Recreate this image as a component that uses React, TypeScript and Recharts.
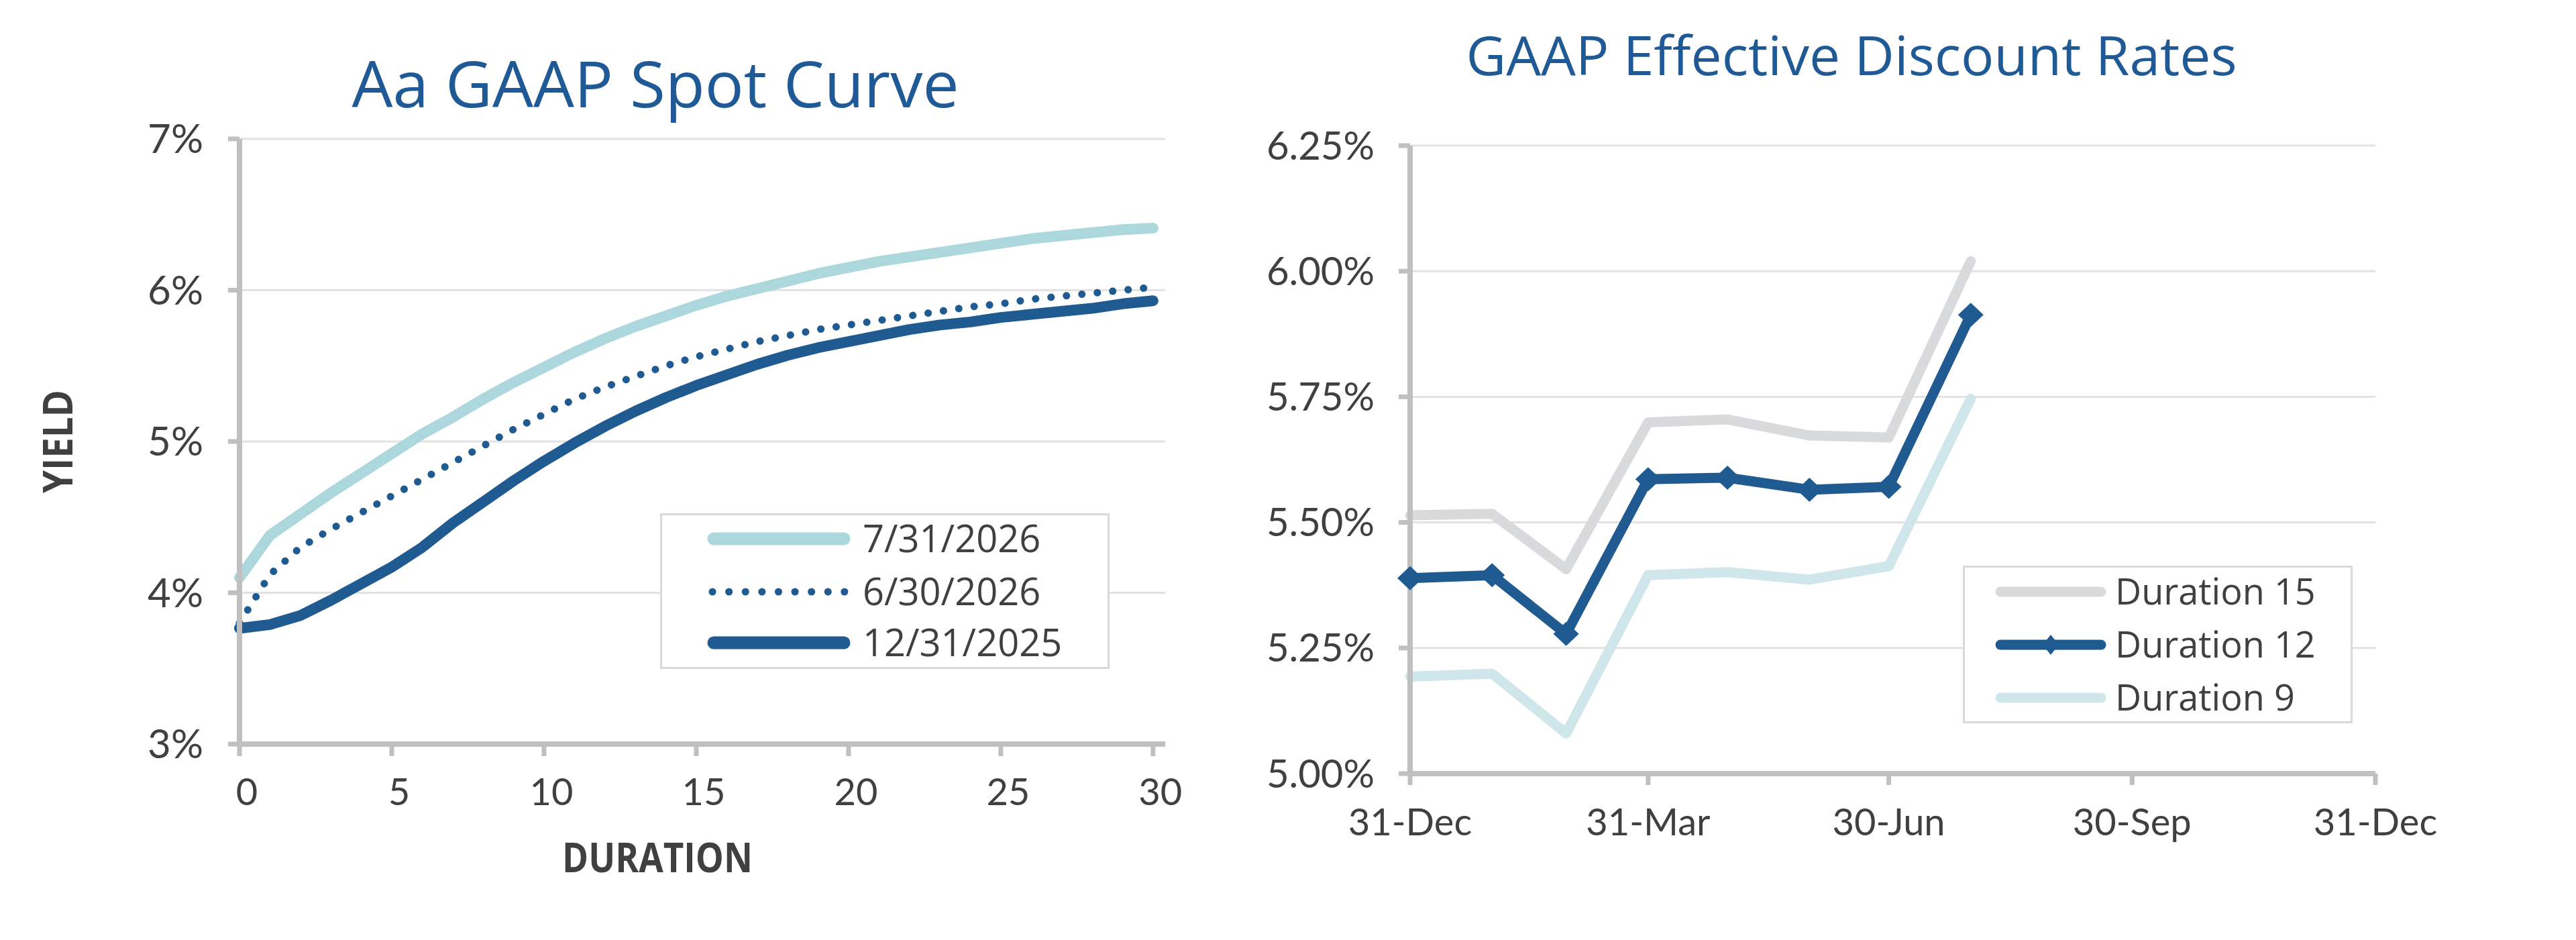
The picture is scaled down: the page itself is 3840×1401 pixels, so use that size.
import React from "react";
import { CartesianGrid, Legend, Line, LineChart, XAxis, YAxis } from "recharts";

// ---- Aa GAAP spot curve (yield % by duration) ----
const durations = [
  0, 1, 2, 3, 4, 5, 6, 7, 8, 9, 10, 11, 12, 13, 14, 15, 16, 17, 18, 19, 20, 21, 22, 23, 24, 25, 26, 27, 28, 29, 30,
];
const spotJul2026 = [
  4.1, 4.38, 4.52, 4.66, 4.79, 4.92, 5.05, 5.16, 5.28, 5.39, 5.49, 5.59, 5.68, 5.76, 5.83, 5.9, 5.96, 6.01, 6.06,
  6.11, 6.15, 6.19, 6.22, 6.25, 6.28, 6.31, 6.34, 6.36, 6.38, 6.4, 6.41,
];
const spotJun2026 = [
  3.8, 4.12, 4.3, 4.42, 4.53, 4.64, 4.75, 4.86, 4.97, 5.08, 5.18, 5.28, 5.36, 5.43, 5.5, 5.56, 5.61, 5.66, 5.7, 5.74,
  5.77, 5.8, 5.83, 5.86, 5.89, 5.91, 5.94, 5.96, 5.98, 6.0, 6.02,
];
const spotDec2025 = [
  3.765, 3.79, 3.85, 3.95, 4.06, 4.17, 4.3, 4.46, 4.6, 4.74, 4.87, 4.99, 5.1, 5.2, 5.29, 5.37, 5.44, 5.51, 5.57,
  5.62, 5.66, 5.7, 5.74, 5.77, 5.79, 5.82, 5.84, 5.86, 5.88, 5.91, 5.93,
];
const durationTicks = [0, 5, 10, 15, 20, 25, 30];
const yieldTicks = [3, 4, 5, 6, 7];

// ---- GAAP effective discount rates (days after 31-Dec) ----
const rateDays = [0, 31, 59, 90, 120, 151, 181, 212];
const rateDates = ["31-Dec", "31-Jan", "28-Feb", "31-Mar", "30-Apr", "31-May", "30-Jun", "31-Jul"];
const duration15 = [5.514, 5.517, 5.407, 5.699, 5.705, 5.673, 5.669, 6.02];
const duration12 = [5.389, 5.395, 5.278, 5.586, 5.589, 5.565, 5.571, 5.913];
const duration9 = [5.193, 5.199, 5.08, 5.395, 5.401, 5.386, 5.413, 5.746];
const dayTicks = [0, 90, 181, 273, 365];
const dayTickLabels = ["31-Dec", "31-Mar", "30-Jun", "30-Sep", "31-Dec"];
const rateTicks = [5, 5.25, 5.5, 5.75, 6, 6.25];

const TEXT = "#404040";
const TITLE = "#1f5a96";
const AXIS = "#c0c0c0";
const GRID = "#e2e2e2";
const DARK = "#1f5a91";
const LIGHT = "#acd8dd";
const GREY = "#d8dadc";
const PALE = "#cfe7ea";
const FONT_TEXT = "'Open Sans', sans-serif";
const FONT_TICK = "Lato, 'Open Sans', sans-serif";

const spotRows = durations.map((d, i) => ({
  duration: d,
  jul26: spotJul2026[i],
  jun26: spotJun2026[i],
  dec25: spotDec2025[i],
}));

const rateRows = rateDays.map((day, i) => ({
  day,
  date: rateDates[i],
  d15: duration15[i],
  d12: duration12[i],
  d9: duration9[i],
}));

const spotSeries = [
  { key: "jul26", label: "7/31/2026", color: LIGHT, dotted: false },
  { key: "jun26", label: "6/30/2026", color: DARK, dotted: true },
  { key: "dec25", label: "12/31/2025", color: DARK, dotted: false },
];

const rateSeries = [
  { key: "d15", label: "Duration 15", color: GREY, marker: false },
  { key: "d12", label: "Duration 12", color: DARK, marker: true },
  { key: "d9", label: "Duration 9", color: PALE, marker: false },
];

// legend svgs get some slack above and below the box so the text never pokes out
const PAD = 24;

function diamond(cx: number, cy: number, hw: number, hh: number) {
  return `M${cx},${cy - hh}L${cx + hw},${cy}L${cx},${cy + hh}L${cx - hw},${cy}Z`;
}

function DiamondDot(props: any) {
  const { cx, cy, index } = props;
  if (cx == null || cy == null) return null;
  return <path key={`dm-${index}`} d={diamond(cx, cy, 19, 18)} fill={DARK} stroke="none" />;
}

function ShiftedTick(props: any) {
  const { x, y, payload } = props;
  return (
    <text x={x + 11} y={y} dy="0.71em" textAnchor="middle" fill={TEXT} fontSize={56} fontFamily={FONT_TICK}>
      {payload.value}
    </text>
  );
}

function SpotLegend() {
  const w = 670;
  const h = 232;
  const rows = [38, 117, 193];
  return (
    <svg width={w} height={h + PAD * 2} style={{ display: "block" }}>
      <rect x={1.5} y={PAD + 1.5} width={w - 3} height={h - 3} fill="#fff" stroke="#d9d9d9" strokeWidth={3} />
      {spotSeries.map((s, i) => {
        const y = PAD + rows[i];
        return (
          <g key={s.key}>
            {s.dotted ? (
              <line
                x1={78}
                x2={278}
                y1={y}
                y2={y}
                stroke={s.color}
                strokeWidth={11}
                strokeLinecap="round"
                strokeDasharray="0.1 24.5"
              />
            ) : (
              <line x1={80} x2={274} y1={y} y2={y} stroke={s.color} strokeWidth={19} strokeLinecap="round" />
            )}
            <text x={302} y={y + 20} fill={TEXT} fontSize={56} fontFamily={FONT_TEXT}>
              {s.label}
            </text>
          </g>
        );
      })}
    </svg>
  );
}

function RateLegend() {
  const w = 581;
  const h = 235;
  const rows = [39, 118, 197];
  return (
    <svg width={w} height={h + PAD * 2} style={{ display: "block" }}>
      <rect x={1.5} y={PAD + 1.5} width={w - 3} height={h - 3} fill="#fff" stroke="#d9d9d9" strokeWidth={3} />
      {rateSeries.map((s, i) => {
        const y = PAD + rows[i];
        return (
          <g key={s.key}>
            <line x1={56} x2={206} y1={y} y2={y} stroke={s.color} strokeWidth={15} strokeLinecap="round" />
            {s.marker && <path d={diamond(131, y, 12, 15)} fill={s.color} />}
            <text x={227} y={y + 19} fill={TEXT} fontSize={54} fontFamily={FONT_TEXT}>
              {s.label}
            </text>
          </g>
        );
      })}
    </svg>
  );
}

export default function App() {
  const axisLine = { stroke: AXIS, strokeWidth: 8 };
  const tickLine = { stroke: AXIS, strokeWidth: 7 };

  return (
    <div style={{ position: "absolute", left: 0, top: 0, width: 3840, height: 1401, background: "#fff", overflow: "hidden" }}>
      <div style={{ position: "absolute", left: 0, top: 0 }}>
        <LineChart width={1850} height={1401} data={spotRows} margin={{ top: 207, right: 113, bottom: 0, left: 0 }}>
          <CartesianGrid vertical={false} stroke={GRID} strokeWidth={3} />
          <XAxis
            dataKey="duration"
            type="number"
            domain={[0, 30.4]}
            ticks={durationTicks}
            interval={0}
            height={292}
            axisLine={axisLine}
            tickLine={tickLine}
            tickSize={18}
            tickMargin={33}
            tick={<ShiftedTick />}
          />
          <YAxis
            type="number"
            domain={[3, 7]}
            ticks={yieldTicks}
            interval={0}
            width={357}
            axisLine={axisLine}
            tickLine={tickLine}
            tickSize={17}
            tickMargin={37}
            tickFormatter={(v: number) => `${v}%`}
            tick={{ fill: TEXT, fontSize: 60, fontFamily: FONT_TICK }}
          />
          <Legend
            layout="vertical"
            align="center"
            verticalAlign="middle"
            wrapperStyle={{ left: 984, top: 765 - PAD, width: 670, height: 232 + PAD * 2 }}
            content={() => <SpotLegend />}
          />
          <Line
            dataKey="jul26"
            name="7/31/2026"
            stroke={LIGHT}
            strokeWidth={16}
            strokeLinecap="round"
            strokeLinejoin="round"
            type="linear"
            dot={false}
            activeDot={false}
            isAnimationActive={false}
          />
          <Line
            dataKey="jun26"
            name="6/30/2026"
            stroke={DARK}
            strokeWidth={11}
            strokeLinecap="round"
            strokeDasharray="0.1 23"
            type="linear"
            dot={false}
            activeDot={false}
            isAnimationActive={false}
          />
          <Line
            dataKey="dec25"
            name="12/31/2025"
            stroke={DARK}
            strokeWidth={16}
            strokeLinecap="round"
            strokeLinejoin="round"
            type="linear"
            dot={false}
            activeDot={false}
            isAnimationActive={false}
          />
        </LineChart>
      </div>

      <div style={{ position: "absolute", left: 1850, top: 0 }}>
        <LineChart width={1990} height={1401} data={rateRows} margin={{ top: 217, right: 299, bottom: 0, left: 0 }}>
          <CartesianGrid vertical={false} stroke={GRID} strokeWidth={3} />
          <XAxis
            dataKey="day"
            type="number"
            domain={[0, 365]}
            ticks={dayTicks}
            interval={0}
            height={248}
            axisLine={axisLine}
            tickLine={tickLine}
            tickSize={17}
            tickMargin={35}
            tickFormatter={(v: number) => dayTickLabels[dayTicks.indexOf(v)]}
            tick={{ fill: TEXT, fontSize: 56, fontFamily: FONT_TICK }}
          />
          <YAxis
            type="number"
            domain={[5, 6.25]}
            ticks={rateTicks}
            interval={0}
            width={252}
            axisLine={axisLine}
            tickLine={tickLine}
            tickSize={17}
            tickMargin={36}
            tickFormatter={(v: number) => `${v.toFixed(2)}%`}
            tick={{ fill: TEXT, fontSize: 58, fontFamily: FONT_TICK }}
          />
          <Legend
            layout="vertical"
            align="center"
            verticalAlign="middle"
            wrapperStyle={{ left: 1076, top: 843 - PAD, width: 581, height: 235 + PAD * 2 }}
            content={() => <RateLegend />}
          />
          <Line
            dataKey="d15"
            name="Duration 15"
            stroke={GREY}
            strokeWidth={15}
            strokeLinecap="round"
            strokeLinejoin="round"
            type="linear"
            dot={false}
            activeDot={false}
            isAnimationActive={false}
          />
          <Line
            dataKey="d9"
            name="Duration 9"
            stroke={PALE}
            strokeWidth={15}
            strokeLinecap="round"
            strokeLinejoin="round"
            type="linear"
            dot={false}
            activeDot={false}
            isAnimationActive={false}
          />
          <Line
            dataKey="d12"
            name="Duration 12"
            stroke={DARK}
            strokeWidth={15}
            strokeLinecap="round"
            strokeLinejoin="round"
            type="linear"
            dot={(p: any) => <DiamondDot {...p} />}
            activeDot={false}
            isAnimationActive={false}
          />
        </LineChart>
      </div>

      <svg
        width={3840}
        height={1401}
        style={{ position: "absolute", left: 0, top: 0, pointerEvents: "none" }}
      >
        <text
          x={977}
          y={160}
          textAnchor="middle"
          fill={TITLE}
          fontSize={95}
          fontFamily={FONT_TEXT}
          textLength={905}
          lengthAdjust="spacingAndGlyphs"
        >
          Aa GAAP Spot Curve
        </text>
        <text
          x={2760}
          y={112}
          textAnchor="middle"
          fill={TITLE}
          fontSize={81}
          fontFamily={FONT_TEXT}
          textLength={1149}
          lengthAdjust="spacingAndGlyphs"
        >
          GAAP Effective Discount Rates
        </text>
        <text
          x={980}
          y={1300}
          textAnchor="middle"
          fill={TEXT}
          fontSize={60}
          fontWeight={700}
          fontFamily={FONT_TEXT}
          textLength={284}
          lengthAdjust="spacingAndGlyphs"
        >
          DURATION
        </text>
        <text
          transform="translate(108,658) rotate(-90)"
          textAnchor="middle"
          fill={TEXT}
          fontSize={60}
          fontWeight={700}
          fontFamily={FONT_TEXT}
          textLength={154}
          lengthAdjust="spacingAndGlyphs"
        >
          YIELD
        </text>
      </svg>
    </div>
  );
}
